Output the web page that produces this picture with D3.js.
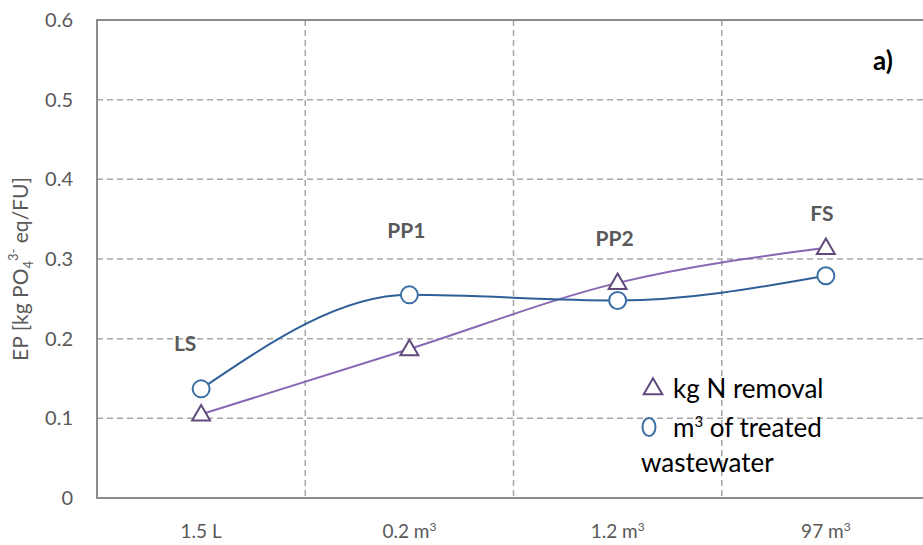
<!DOCTYPE html>
<html>
<head>
<meta charset="utf-8">
<script src="https://cdn.jsdelivr.net/npm/d3@7"></script>
<style>
  body { margin: 0; background: #fff; }
  svg { display: block; font-family: Lato, "Open Sans", sans-serif; }
</style>
</head>
<body>
<div id="chart"></div>
<script>
// categories along the x axis (functional unit amounts)
var categories = ["1.5 L", "0.2 m3", "1.2 m3", "97 m3"];
var stageNames = ["LS", "PP1", "PP2", "FS"];
// EP per kg N removal (triangles)
var nRemoval = [0.105, 0.187, 0.270, 0.314];
// EP per m3 of treated wastewater (circles)
var treatedWater = [0.137, 0.255, 0.248, 0.279];
var yTicks = [0, 0.1, 0.2, 0.3, 0.4, 0.5, 0.6];

var W = 923, H = 545;
var margin = { top: 20, right: -7, bottom: 47, left: 97 },
  width = W - margin.left - margin.right,
  height = H - margin.top - margin.bottom;

var svg = d3.select("#chart").append("svg")
  .attr("width", W)
  .attr("height", H)
  .append("g")
  .attr("transform", "translate(" + margin.left + "," + margin.top + ")");

var x = d3.scaleBand().domain(categories).range([0, width]);
var y = d3.scaleLinear().domain([0, 0.6]).range([height, 0]);
var cx = function (d, i) { return x(categories[i]) + x.bandwidth() / 2; };

var gridColor = "#a6a6a6";

// horizontal grid
svg.selectAll(".hgrid")
  .data(yTicks.filter(function (d) { return d > 0 && d < 0.6; }))
  .enter().append("line")
  .attr("x1", 0).attr("x2", width)
  .attr("y1", function (d) { return y(d); })
  .attr("y2", function (d) { return y(d); })
  .attr("stroke", gridColor)
  .attr("stroke-width", 1.5)
  .attr("stroke-dasharray", "6,4");

// vertical grid between categories
svg.selectAll(".vgrid")
  .data(categories.slice(1))
  .enter().append("line")
  .attr("x1", function (d) { return x(d); })
  .attr("x2", function (d) { return x(d); })
  .attr("y1", 0).attr("y2", height)
  .attr("stroke", gridColor)
  .attr("stroke-width", 1.5)
  .attr("stroke-dasharray", "6,4");

// frame
svg.append("rect")
  .attr("x", 0).attr("y", 0)
  .attr("width", width).attr("height", height)
  .attr("fill", "none")
  .attr("stroke", "#8c8c8c")
  .attr("stroke-width", 2);

// y tick labels
var yAxis = svg.append("g").call(d3.axisLeft(y).tickValues(yTicks)
  .tickFormat(function (d) { return d === 0 ? "0" : d3.format(".1f")(d); })
  .tickSize(0).tickPadding(24));
yAxis.select(".domain").remove();
yAxis.selectAll("text")
  .attr("font-size", 20)
  .attr("font-family", "Lato, sans-serif")
  .attr("fill", "#595959");

// x tick labels with superscript 3
var xl = svg.append("g").selectAll("text")
  .data(categories)
  .enter().append("text")
  .attr("x", function (d) { return x(d) + x.bandwidth() / 2; })
  .attr("y", height + 40)
  .attr("text-anchor", "middle")
  .attr("font-size", 19)
  .attr("fill", "#595959");
xl.each(function (d) {
  var t = d3.select(this);
  if (d.slice(-2) === "m3") {
    t.append("tspan").text(d.slice(0, -1));
    t.append("tspan").attr("font-size", 12).attr("dy", -7).text("3");
  } else {
    t.text(d);
  }
});

// y axis title
var yt = svg.append("text")
  .attr("transform", "translate(" + (-69) + "," + (height / 2 + 10) + ") rotate(-90)")
  .attr("text-anchor", "middle")
  .attr("font-size", 21)
  .attr("fill", "#595959");
yt.append("tspan").text("EP [kg PO");
yt.append("tspan").attr("font-size", 13).attr("dy", 5).text("4");
yt.append("tspan").attr("font-size", 13).attr("dy", -15).text("3-");
yt.append("tspan").attr("dy", 10).text(" eq/FU]");

// smoothed lines
var line = d3.line()
  .x(cx)
  .y(function (d) { return y(d); })
  .curve(d3.curveMonotoneX);

svg.append("path")
  .datum(nRemoval)
  .attr("d", line)
  .attr("fill", "none")
  .attr("stroke", "#8a68b4")
  .attr("stroke-width", 2);

svg.append("path")
  .datum(treatedWater)
  .attr("d", line)
  .attr("fill", "none")
  .attr("stroke", "#2f5f98")
  .attr("stroke-width", 2);

// markers
var tri = d3.symbol().type(d3.symbolTriangle).size(140);
svg.selectAll(".tri")
  .data(nRemoval)
  .enter().append("path")
  .attr("d", tri)
  .attr("transform", function (d, i) { return "translate(" + cx(d, i) + "," + (y(d) + 1) + ")"; })
  .attr("fill", "#fff")
  .attr("stroke", "#604a7b")
  .attr("stroke-width", 2);

svg.selectAll(".dot")
  .data(treatedWater)
  .enter().append("circle")
  .attr("cx", cx)
  .attr("cy", function (d) { return y(d); })
  .attr("r", 8.5)
  .attr("fill", "#fff")
  .attr("stroke", "#3b6ea5")
  .attr("stroke-width", 2);

// stage labels (placement in data units above the points)
var labelAt = [0.184, 0.326, 0.316, 0.348];
var labelDx = [-16, -3, -3, -4];
svg.selectAll(".stage")
  .data(stageNames)
  .enter().append("text")
  .attr("x", function (d, i) { return cx(d, i) + labelDx[i]; })
  .attr("y", function (d, i) { return y(labelAt[i]); })
  .attr("text-anchor", "middle")
  .attr("font-size", 21)
  .attr("font-weight", "bold")
  .attr("fill", "#595959")
  .text(function (d) { return d; });

svg.append("text")
  .attr("x", 786).attr("y", 50)
  .attr("text-anchor", "middle")
  .attr("font-size", 26)
  .attr("font-weight", "bold")
  .attr("fill", "#000")
  .text("a)");

// legend
var leg = svg.append("g").attr("transform", "translate(544,0)");
leg.append("path")
  .attr("d", d3.symbol().type(d3.symbolTriangle).size(150))
  .attr("transform", "translate(12,369)")
  .attr("fill", "#fff")
  .attr("stroke", "#604a7b")
  .attr("stroke-width", 2);
leg.append("text")
  .attr("x", 32).attr("y", 378)
  .attr("font-size", 26)
  .attr("fill", "#000")
  .text("kg N removal");
leg.append("ellipse")
  .attr("cx", 8).attr("cy", 407)
  .attr("rx", 6.5).attr("ry", 9)
  .attr("fill", "#fff")
  .attr("stroke", "#3b6ea5")
  .attr("stroke-width", 2);
var lt = leg.append("text")
  .attr("x", 32).attr("y", 417)
  .attr("font-size", 26)
  .attr("fill", "#000");
lt.append("tspan").text("m");
lt.append("tspan").attr("font-size", 15).attr("dy", -10).text("3");
lt.append("tspan").attr("dy", 10).text(" of treated");
leg.append("text")
  .attr("x", 0).attr("y", 452)
  .attr("font-size", 26)
  .attr("fill", "#000")
  .text("wastewater");
</script>
</body>
</html>
